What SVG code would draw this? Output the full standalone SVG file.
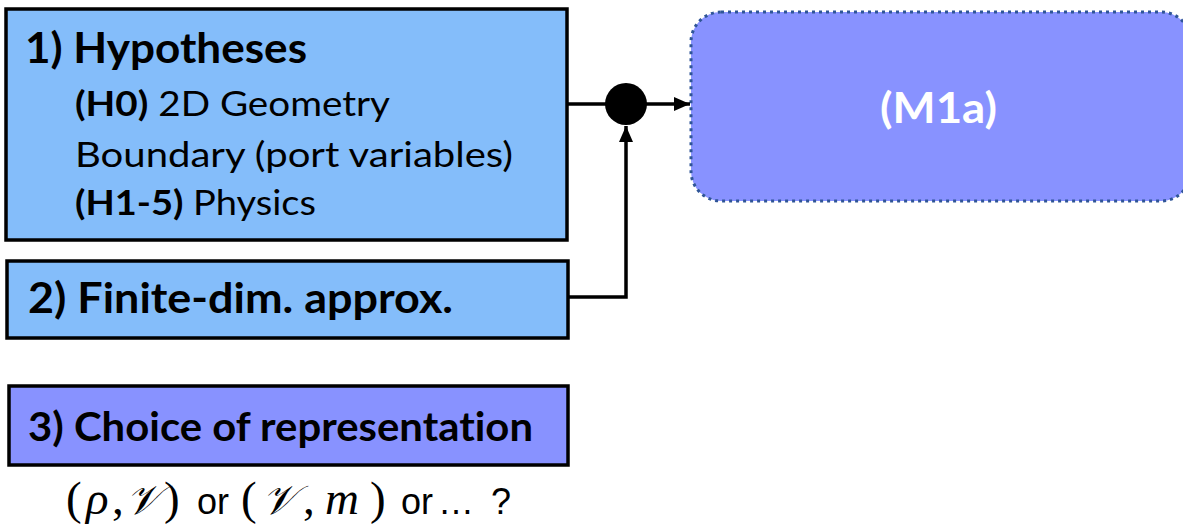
<svg xmlns="http://www.w3.org/2000/svg" width="1183" height="527" viewBox="0 0 1183 527">
<defs>
<style>
.box{stroke:#000;stroke-width:3.5}
.blue{fill:#84BDFA}
.purple{fill:#8892FF}
.t{font-family:Lato,"Open Sans","Liberation Sans",sans-serif;fill:#000;font-variant-ligatures:none}
.b{font-weight:bold}
.conn{stroke:#000;stroke-width:3.5;fill:none}
.m{font-family:"Liberation Serif","DejaVu Serif",serif;font-style:italic}
.v{font-size:41px}
.mr{font-family:"Liberation Serif","DejaVu Serif",serif}
.s{font-family:"Liberation Sans",Arial,sans-serif;font-size:36px}
</style>
<marker id="ah" viewBox="0 0 16 14" refX="16" refY="7" markerWidth="16" markerHeight="14" markerUnits="userSpaceOnUse" orient="auto">
<path d="M0,0 L16,7 L0,14 z" fill="#000"/>
</marker>
</defs>
<rect width="1183" height="527" fill="#fff"/>
<g id="hypotheses">
<rect class="box blue" x="6" y="9" width="561" height="231"/>
<text class="t b" x="25" y="63" font-size="42" textLength="282" lengthAdjust="spacingAndGlyphs">1) Hypotheses</text>
<text class="t" x="75" y="116" font-size="35" textLength="315" lengthAdjust="spacingAndGlyphs"><tspan class="b">(H0)</tspan> 2D Geometry</text>
<text class="t" x="75" y="167" font-size="35" textLength="438" lengthAdjust="spacingAndGlyphs">Boundary (port variables)</text>
<text class="t" x="75" y="215" font-size="35" textLength="241" lengthAdjust="spacingAndGlyphs"><tspan class="b">(H1-5)</tspan> Physics</text>
</g>
<g id="finite">
<rect class="box blue" x="7" y="261" width="561" height="77"/>
<text class="t b" x="28" y="313" font-size="42" textLength="425" lengthAdjust="spacingAndGlyphs">2) Finite-dim. approx.</text>
</g>
<g id="representation">
<rect class="box purple" x="9" y="386" width="559" height="79"/>
<text class="t b" x="28" y="441" font-size="40" textLength="505" lengthAdjust="spacingAndGlyphs">3) Choice of representation</text>
<text font-size="47" y="514"><tspan class="mr" x="66">(</tspan><tspan class="m" x="86">ρ</tspan><tspan class="mr" x="112">,</tspan><tspan class="m v" x="126">𝒱</tspan><tspan class="mr" x="164">)</tspan><tspan class="s" x="197">or</tspan><tspan class="mr" x="241">(</tspan><tspan class="m v" x="262">𝒱</tspan><tspan class="mr" x="303">,</tspan><tspan class="m" x="325">m</tspan><tspan class="mr" x="370">)</tspan><tspan class="s" x="401">or</tspan><tspan class="s" x="438">…</tspan><tspan class="s" x="491">?</tspan></text>
</g>
<g id="junction">
<circle cx="626" cy="104" r="21" fill="#000"/>
</g>
<g id="m1a">
<rect x="691" y="12" width="500" height="189" rx="30" ry="30" fill="#8892FF" stroke="#2F5597" stroke-width="3" stroke-dasharray="3 4"/>
<text class="t b" x="880" y="123" font-size="42" textLength="117" lengthAdjust="spacingAndGlyphs" style="fill:#fff">(M1a)</text>
</g>
<g id="connectors">
<line class="conn" x1="567" y1="104" x2="606" y2="104"/>
<line class="conn" x1="646" y1="104" x2="690" y2="104" marker-end="url(#ah)"/>
<polyline class="conn" points="568,297 626,297 626,126" marker-end="url(#ah)"/>
</g>
</svg>
